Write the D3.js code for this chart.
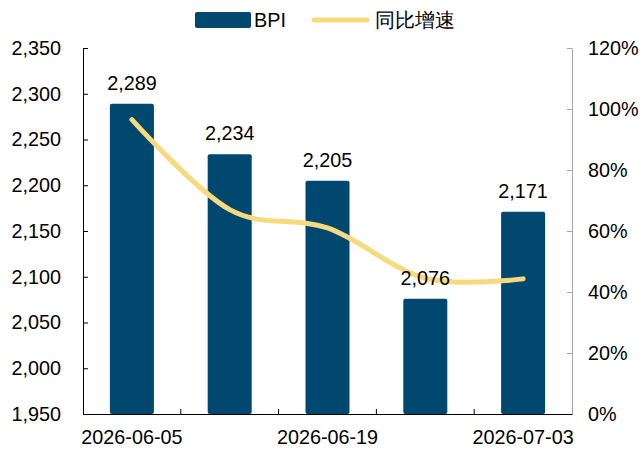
<!DOCTYPE html>
<html>
<head>
<meta charset="utf-8">
<script src="https://cdn.jsdelivr.net/npm/d3@7"></script>
<style>
    body { margin: 0; background: #fff; }
    text { font-family: "Liberation Sans", Arial, sans-serif; }
</style>
</head>
<body>
<div id="chart"></div>
<script>
// data
const dates = ["2026-06-05", "2026-06-12", "2026-06-19", "2026-06-26", "2026-07-03"];
const shownDates = ["2026-06-05", "2026-06-19", "2026-07-03"];
const bpi = [2289, 2234, 2205, 2076, 2171];
const yoy = [0.965, 0.67, 0.61, 0.445, 0.443];
const leftTicks = [1950, 2000, 2050, 2100, 2150, 2200, 2250, 2300, 2350];
const rightTicks = [0, 0.2, 0.4, 0.6, 0.8, 1.0, 1.2];

const width = 640, height = 453;
const margin = {top: 48, right: 68, bottom: 39, left: 83};
const w = width - margin.left - margin.right;
const h = height - margin.top - margin.bottom;

const barColor = "#004870";
const lineColor = "#F7DA7E";
const fontSize = 19.8;

const svg = d3.select("#chart").append("svg")
    .attr("width", width)
    .attr("height", height);

const g = svg.append("g")
    .attr("transform", "translate(" + margin.left + "," + margin.top + ")");

const x = d3.scaleBand().domain(dates).range([0, w]).paddingInner(0.55).paddingOuter(0.275);
const xBand = d3.scaleBand().domain(dates).range([0, w]);
const yL = d3.scaleLinear().domain([1950, 2350]).range([h, 0]);
const yR = d3.scaleLinear().domain([0, 1.2]).range([h, 0]);

// bars
g.selectAll(".bar")
    .data(dates)
    .enter()
    .append("rect")
    .attr("class", "bar")
    .attr("x", d => x(d))
    .attr("y", (d, i) => yL(bpi[i]))
    .attr("width", x.bandwidth())
    .attr("height", (d, i) => h - yL(bpi[i]))
    .attr("rx", 2)
    .attr("fill", barColor);

// line
const line = d3.line()
    .curve(d3.curveCatmullRom.alpha(0))
    .x((d, i) => x(dates[i]) + x.bandwidth() / 2)
    .y(d => yR(d));

g.append("path")
    .datum(yoy)
    .attr("fill", "none")
    .attr("stroke", lineColor)
    .attr("stroke-width", 5)
    .attr("stroke-linecap", "round")
    .attr("d", line);

// value labels (drawn above the line)
g.selectAll(".val")
    .data(dates)
    .enter()
    .append("text")
    .attr("x", d => x(d) + x.bandwidth() / 2)
    .attr("y", (d, i) => yL(bpi[i]) - 14)
    .attr("text-anchor", "middle")
    .attr("font-size", fontSize)
    .attr("fill", "#000")
    .text((d, i) => d3.format(",")(bpi[i]));

// left axis
const axL = g.append("g")
    .call(d3.axisLeft(yL).tickValues(leftTicks).tickFormat(d3.format(",")).tickSizeInner(-5).tickSizeOuter(0).tickPadding(22));
axL.select(".domain").attr("stroke", "#000");
axL.selectAll(".tick line").attr("stroke", "#000");
axL.selectAll("text").attr("font-size", fontSize).attr("fill", "#000").attr("font-family", "Liberation Sans, Arial, sans-serif");

// right axis
const axR = g.append("g")
    .attr("transform", "translate(" + w + ",0)")
    .call(d3.axisRight(yR).tickValues(rightTicks).tickFormat(d3.format(".0%")).tickSizeInner(-5).tickSizeOuter(0).tickPadding(16));
axR.select(".domain").attr("stroke", "#a6a6a6");
axR.selectAll(".tick line").attr("stroke", "#a6a6a6");
axR.selectAll("text").attr("font-size", fontSize).attr("fill", "#000").attr("font-family", "Liberation Sans, Arial, sans-serif");

// bottom axis
const axB = g.append("g")
    .attr("transform", "translate(0," + h + ")")
    .call(d3.axisBottom(x).tickFormat(d => shownDates.includes(d) ? d : "").tickSize(0).tickPadding(16));
axB.select(".domain").attr("stroke", "#000");
axB.selectAll("text").attr("font-size", fontSize).attr("fill", "#000").attr("font-family", "Liberation Sans, Arial, sans-serif");

// band boundary ticks
g.selectAll(".btick")
    .data(dates.slice(1))
    .enter()
    .append("line")
    .attr("x1", d => xBand(d))
    .attr("x2", d => xBand(d))
    .attr("y1", h)
    .attr("y2", h - 5)
    .attr("stroke", "#000");

// legend
const legend = svg.append("g");
legend.append("rect")
    .attr("x", 195).attr("y", 12)
    .attr("width", 56).attr("height", 16)
    .attr("rx", 2)
    .attr("fill", barColor);
legend.append("text")
    .attr("x", 254).attr("y", 27)
    .attr("font-size", fontSize)
    .text("BPI");
legend.append("line")
    .attr("x1", 314).attr("x2", 367)
    .attr("y1", 20).attr("y2", 20)
    .attr("stroke", lineColor)
    .attr("stroke-width", 5)
    .attr("stroke-linecap", "round");
legend.append("text")
    .attr("x", 375).attr("y", 27)
    .attr("font-size", fontSize)
    .attr("font-family", "Noto Sans CJK SC, sans-serif")
    .text("同比增速");
</script>
</body>
</html>
